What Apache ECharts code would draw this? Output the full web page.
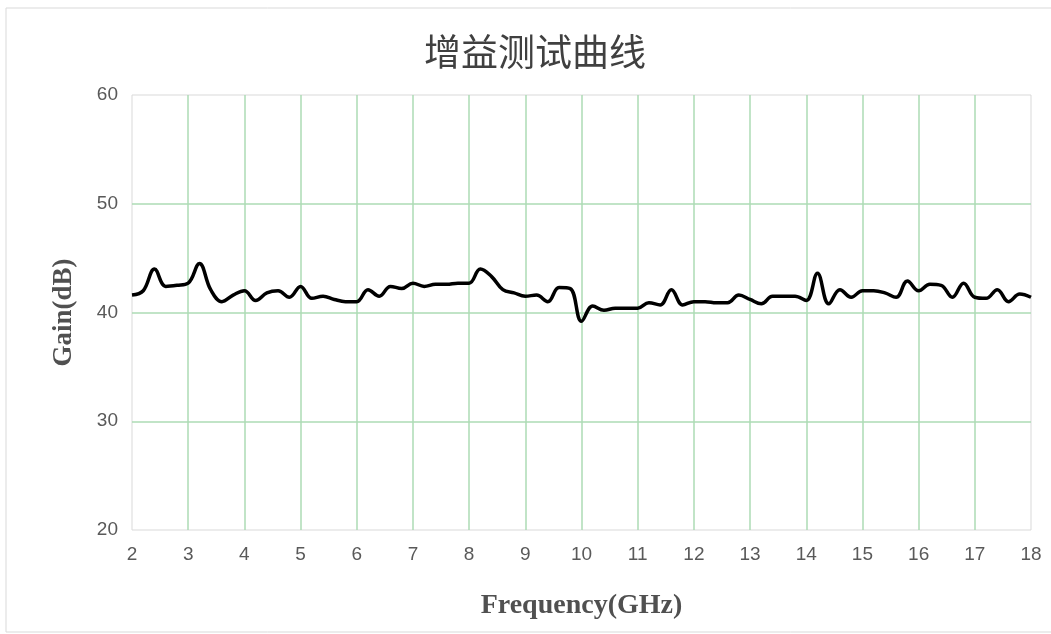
<!DOCTYPE html>
<html>
<head>
<meta charset="utf-8">
<script src="https://cdn.jsdelivr.net/npm/echarts@6/dist/echarts.min.js"></script>
<style>html,body{margin:0;padding:0;background:#fff;}#c{width:1051px;height:634px;}</style>
</head>
<body>
<div id="c"></div>
<script>
const freqs = [2.0,2.2,2.4,2.6,2.8,3.0,3.2,3.4,3.6,3.8,4.0,4.2,4.4,4.6,4.8,5.0,5.2,5.4,5.6,5.8,6.0,6.2,6.4,6.6,6.8,7.0,7.2,7.4,7.6,7.8,8.0,8.2,8.4,8.6,8.8,9.0,9.2,9.4,9.6,9.8,10.0,10.2,10.4,10.6,10.8,11.0,11.2,11.4,11.6,11.8,12.0,12.2,12.4,12.6,12.8,13.0,13.2,13.4,13.6,13.8,14.0,14.2,14.4,14.6,14.8,15.0,15.2,15.4,15.6,15.8,16.0,16.2,16.4,16.6,16.8,17.0,17.2,17.4,17.6,17.8,18.0];
const gain = [41.6,42.0,44.0,42.4,42.5,42.7,44.5,42.1,41.0,41.6,42.0,41.1,41.8,42.0,41.4,42.4,41.3,41.5,41.2,41.0,41.0,42.1,41.5,42.4,42.2,42.7,42.4,42.6,42.6,42.7,42.7,44.0,43.3,42.1,41.8,41.5,41.6,41.0,42.3,42.2,39.2,40.6,40.2,40.4,40.4,40.4,40.9,40.7,42.1,40.7,41.0,41.0,40.9,40.9,41.6,41.2,40.8,41.5,41.5,41.5,41.1,43.6,40.8,42.1,41.4,42.0,42.0,41.8,41.4,42.9,42.0,42.6,42.5,41.4,42.7,41.4,41.3,42.1,41.0,41.7,41.4];
const title = '增益测试曲线';
const xName = 'Frequency(GHz)';
const yName = 'Gain(dB)';

const chart = echarts.init(document.getElementById('c'));
chart.setOption({
  backgroundColor: '#fff',
  animation: false,
  graphic: [{
    type: 'rect', shape: {x: 6, y: 8, width: 1100, height: 624},
    style: {fill: 'none', stroke: '#d9d9d9', lineWidth: 1}, silent: true, z: -1
  }],
  title: {
    text: title, left: 530, top: 28, textAlign: 'center',
    textStyle: {fontFamily: 'Noto Sans CJK SC', fontSize: 37, fontWeight: 'normal', color: '#404040'}
  },
  grid: {left: 132, right: 20, top: 95, bottom: 104, show: true, borderColor: '#d9d9d9', borderWidth: 1, backgroundColor: 'transparent'},
  xAxis: {
    type: 'value', min: 2, max: 18, interval: 1,
    name: xName, nameLocation: 'middle', nameGap: 62,
    nameTextStyle: {fontFamily: 'Liberation Serif', fontWeight: 'bold', fontSize: 28, color: '#505050'},
    axisLine: {show: false}, axisTick: {show: false},
    axisLabel: {fontFamily: 'Liberation Sans', fontSize: 19, color: '#595959', margin: 15},
    splitLine: {show: true, showMinLine: false, showMaxLine: false, lineStyle: {color: '#acdbb5', width: 1.5}}
  },
  yAxis: {
    type: 'value', min: 20, max: 60, interval: 10,
    name: yName, nameLocation: 'middle', nameGap: 54,
    nameTextStyle: {fontFamily: 'Liberation Serif', fontWeight: 'bold', fontSize: 27, color: '#505050'},
    axisLine: {show: false}, axisTick: {show: false},
    axisLabel: {fontFamily: 'Liberation Sans', fontSize: 19, color: '#595959', margin: 14},
    splitLine: {show: true, showMinLine: false, showMaxLine: false, lineStyle: {color: '#acdbb5', width: 1.5}}
  },
  series: [{
    type: 'line', data: freqs.map((f, i) => [f, gain[i]]),
    smooth: 0.4, showSymbol: false,
    lineStyle: {color: '#000', width: 3.5}
  }]
});
</script>
</body>
</html>
